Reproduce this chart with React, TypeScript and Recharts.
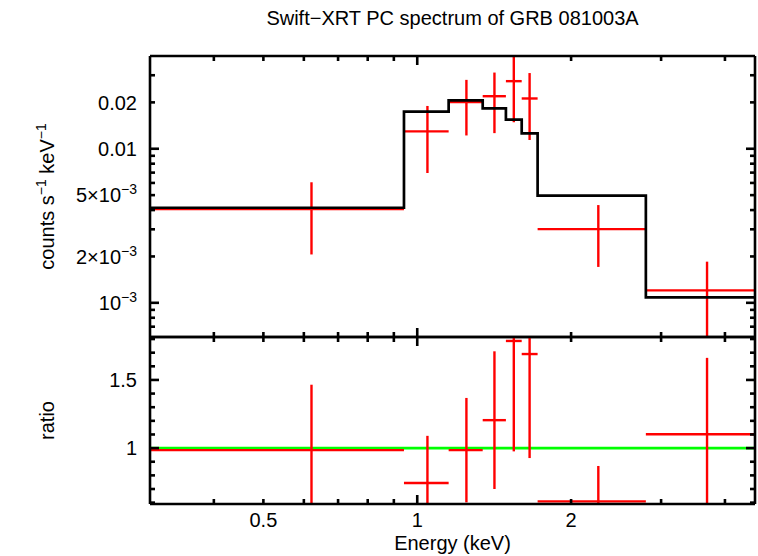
import React from "react";
import {
  ComposedChart,
  Line,
  Scatter,
  XAxis,
  YAxis,
  ErrorBar,
  ReferenceLine,
  Label,
} from "recharts";

// channel bins (keV) and bin centres
const binEdges = [0.3, 0.942, 1.152, 1.343, 1.491, 1.601, 1.72, 2.801, 4.58];
const binCenters = [0.621, 1.047, 1.248, 1.416, 1.545, 1.659, 2.261, 3.69];

// folded spectrum (counts s^-1 keV^-1)
const counts = [0.00406, 0.01296, 0.0201, 0.02193, 0.02746, 0.0212, 0.00301, 0.001205];
const countsErr = [0.002, 0.006, 0.0079, 0.0093, 0.0126, 0.0098, 0.0013, 0.000645];
const model = [0.00414, 0.0174, 0.0206, 0.0183, 0.01545, 0.01258, 0.00496, 0.001084];

// data / model
const ratio = [0.985, 0.744, 0.985, 1.205, 1.786, 1.69, 0.609, 1.102];
const ratioErr = [0.48, 0.346, 0.383, 0.505, 0.81, 0.763, 0.26, 0.56];

// ticks and labels
const xMajor = [1];
const xMinor = [0.4, 0.5, 0.6, 0.7, 0.8, 0.9, 2, 3, 4];
const xLabels = [0.5, 1, 2];
const xLabelText = [["0.5", ""], ["1", ""], ["2", ""]];

const countMajor = [0.001, 0.01];
const countMinor = [0.0007, 0.0008, 0.0009, 0.002, 0.003, 0.004, 0.005, 0.006, 0.007, 0.008, 0.009, 0.02, 0.03];
const countLabels = [0.001, 0.002, 0.005, 0.01, 0.02];
const countLabelText = [["10", "\u22123"], ["2\u00d710", "\u22123"], ["5\u00d710", "\u22123"], ["0.01", ""], ["0.02", ""]];

const ratioMajor = [1, 1.5];
const ratioMinor = [0.6, 0.7, 0.8, 0.9, 1.1, 1.2, 1.3, 1.4, 1.6, 1.7, 1.8];
const ratioLabels = [1, 1.5];
const ratioLabelText = [["1", ""], ["1.5", ""]];

const xDomain = [0.3, 4.58];
const countDomain = [0.0006, 0.04];
const ratioDomain = [0.59, 1.815];

const FONT = "'Liberation Sans', Arial, Helvetica, sans-serif";
const FS = 20;
const SUP = 14;
const SUP_DY = 8;
const MAJ = 9;
const MIN = 5;
const RED = "#ff0000";
const LW = 2.6;
const frame = { stroke: "#000", strokeWidth: LW };

// error bars are cut at the panel edges
const clampErr = (v: number, err: number, dom: number[]) => [Math.min(err, v - dom[0]), Math.min(err, dom[1] - v)];

const points = binCenters.map((e, i) => ({
  e,
  c: counts[i],
  cErr: clampErr(counts[i], countsErr[i], countDomain),
  r: ratio[i],
  rErr: clampErr(ratio[i], ratioErr[i], ratioDomain),
  eErr: [e - binEdges[i], binEdges[i + 1] - e],
}));

const steps = binEdges.map((e, i) => ({ e, m: model[Math.min(i, model.length - 1)] }));

const findIdx = (vals: number[], v: number) => vals.findIndex((x) => Math.abs(x - v) < 1e-9);

type Side = "bottom" | "top" | "left" | "right";

// inward tick mark (major/minor length) plus optional label
const makeTick = (side: Side, major: number[], labelVals: number[], labelText: string[][]) => (p: any) => {
  const v = p.payload.value;
  const len = findIdx(major, v) >= 0 ? MAJ : MIN;
  const li = findIdx(labelVals, v);
  const x = p.x;
  const y = p.y;
  let mark;
  if (side === "bottom") mark = <line x1={x} x2={x} y1={y} y2={y - len} />;
  else if (side === "top") mark = <line x1={x} x2={x} y1={y} y2={y + len} />;
  else if (side === "left") mark = <line x1={x} x2={x + len} y1={y} y2={y} />;
  else mark = <line x1={x} x2={x - len} y1={y} y2={y} />;
  let label = null;
  if (li >= 0) {
    const [base, sup] = labelText[li];
    const tx = side === "left" ? x - 13 : x;
    const ty = side === "left" ? y + 7.2 : y + 23;
    label = (
      <text
        x={tx}
        y={ty}
        textAnchor={side === "left" ? "end" : "middle"}
        fontFamily={FONT}
        fontSize={FS}
        fill="#000"
        stroke="none"
      >
        {base}
        {sup && (
          <tspan dy={-SUP_DY} fontSize={SUP}>
            {sup}
          </tspan>
        )}
      </text>
    );
  }
  return (
    <g>
      <g stroke="#000" strokeWidth={LW}>{mark}</g>
      {label}
    </g>
  );
};

function energyAxes(id: string, labels: boolean, bottomLabel?: any, topLabel?: any) {
  const ticks = [...xMinor, ...xMajor].sort((a, b) => a - b);
  const common = {
    type: "number" as const,
    scale: "log" as const,
    dataKey: "e",
    domain: xDomain,
    allowDataOverflow: true,
    interval: 0 as const,
    height: 1,
    ticks,
    tickSize: 0,
    tickMargin: 0,
    tickLine: false,
    axisLine: frame,
  };
  return [
    <XAxis
      key="xb"
      xAxisId={id}
      {...common}
      tick={makeTick("bottom", xMajor, labels ? xLabels : [], xLabelText)}
    >
      {bottomLabel}
    </XAxis>,
    <XAxis key="xt" xAxisId={id + "T"} orientation="top" {...common} tick={makeTick("top", xMajor, [], [])}>
      {topLabel}
    </XAxis>,
  ];
}

function valueAxes(
  id: string,
  scale: "log" | "linear",
  domain: number[],
  major: number[],
  minor: number[],
  labelVals: number[],
  labelText: string[][],
  title: any
) {
  const ticks = [...minor, ...major].sort((a, b) => a - b);
  const common = {
    type: "number" as const,
    scale,
    domain,
    allowDataOverflow: true,
    interval: 0 as const,
    width: 1,
    ticks,
    tickSize: 0,
    tickMargin: 0,
    tickLine: false,
    axisLine: frame,
  };
  return [
    <YAxis key="yl" yAxisId={id} {...common} tick={makeTick("left", major, labelVals, labelText)}>
      {title}
    </YAxis>,
    <YAxis key="yr" yAxisId={id + "R"} orientation="right" {...common} tick={makeTick("right", major, [], [])} />,
  ];
}

const yTitle = (parts: string[][]) => (props: any) => {
  const vb = props.viewBox;
  const cx = 54;
  const cy = vb.y + vb.height / 2;
  return (
    <text
      x={cx}
      y={cy}
      transform={`rotate(-90 ${cx} ${cy})`}
      textAnchor="middle"
      fontFamily={FONT}
      fontSize={FS}
      fill="#000"
    >
      {parts.map(([txt, sup], i) => (
        <React.Fragment key={i}>
          <tspan dy={i > 0 && parts[i - 1][1] ? SUP_DY : 0}>{txt}</tspan>
          {sup && (
            <tspan dy={-SUP_DY} fontSize={SUP}>
              {sup}
            </tspan>
          )}
        </React.Fragment>
      ))}
    </text>
  );
};

const centeredText = (text: string, y: number) => (props: any) => {
  const vb = props.viewBox;
  return (
    <text x={vb.x + vb.width / 2} y={y} textAnchor="middle" fontFamily={FONT} fontSize={FS} fill="#000">
      {text}
    </text>
  );
};

const noMarker = () => <g />;

export default function App() {
  return (
    <div style={{ position: "absolute", left: 0, top: 0, width: 758, height: 556, background: "#fff" }}>
      <div style={{ position: "absolute", left: 0, top: 0 }}>
        <ComposedChart width={758} height={345} data={steps} margin={{ top: 55, right: 2, bottom: 7, left: 149 }}>
          {energyAxes("t", false, null, <Label content={centeredText("Swift\u2212XRT PC spectrum of GRB 081003A", 25)} />)}
          {valueAxes(
            "c",
            "log",
            countDomain,
            countMajor,
            countMinor,
            countLabels,
            countLabelText,
            <Label content={yTitle([["counts s", "\u22121"], [" keV", "\u22121"]])} />
          )}
          <Scatter xAxisId="t" yAxisId="c" data={points} dataKey="c" shape={noMarker} isAnimationActive={false}>
            <ErrorBar dataKey="eErr" direction="x" width={0} stroke={RED} strokeWidth={2.4} isAnimationActive={false} />
            <ErrorBar dataKey="cErr" direction="y" width={0} stroke={RED} strokeWidth={2.4} isAnimationActive={false} />
          </Scatter>
          <Line
            xAxisId="t"
            yAxisId="c"
            dataKey="m"
            type="stepAfter"
            stroke="#000"
            strokeWidth={2.7}
            dot={false}
            isAnimationActive={false}
          />
        </ComposedChart>
      </div>
      <div style={{ position: "absolute", left: 0, top: 330 }}>
        <ComposedChart width={758} height={226} data={points} margin={{ top: 6, right: 2, bottom: 51, left: 149 }}>
          {energyAxes("b", true, <Label content={centeredText("Energy (keV)", 550 - 330)} />)}
          {valueAxes(
            "r",
            "linear",
            ratioDomain,
            ratioMajor,
            ratioMinor,
            ratioLabels,
            ratioLabelText,
            <Label content={yTitle([["ratio", ""]])} />
          )}
          <ReferenceLine xAxisId="b" yAxisId="r" y={1} stroke="#00ff00" strokeWidth={2.6} />
          <Scatter xAxisId="b" yAxisId="r" dataKey="r" shape={noMarker} isAnimationActive={false}>
            <ErrorBar dataKey="eErr" direction="x" width={0} stroke={RED} strokeWidth={2.4} isAnimationActive={false} />
            <ErrorBar dataKey="rErr" direction="y" width={0} stroke={RED} strokeWidth={2.4} isAnimationActive={false} />
          </Scatter>
        </ComposedChart>
      </div>
    </div>
  );
}
